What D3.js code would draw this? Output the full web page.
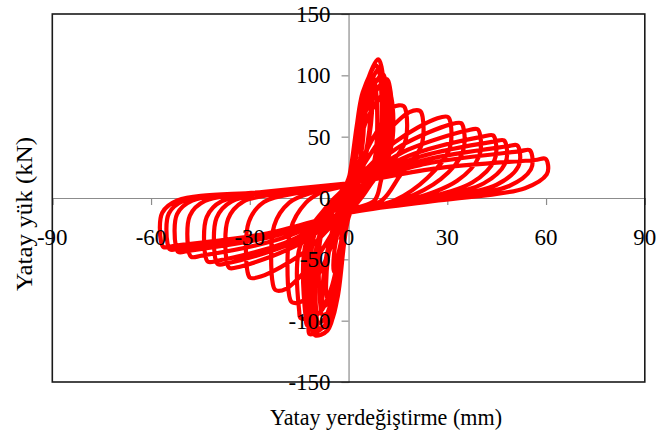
<!DOCTYPE html>
<html>
<head>
<meta charset="utf-8">
<script src="https://cdn.jsdelivr.net/npm/d3@7"></script>
<style>
  html, body { margin: 0; padding: 0; background: #fff; }
  svg { display: block; }
  text { font-family: "Liberation Serif", "Times New Roman", serif; fill: #000; }
</style>
</head>
<body>
<svg id="chart" width="656" height="437"></svg>
<script>
// ---- tick labels ----
const xTicks = [-90, -60, -30, 0, 30, 60, 90];
const yTicks = [-150, -100, -50, 0, 50, 100, 150];
const xTitle = "Yatay yerdeğiştirme (mm)";
const yTitle = "Yatay yük (kN)";

// ---- hysteresis cycles: [displacement (mm), load (kN)] ----
const elastic1 = [[0,0],[1.3,20],[2.5,35],[1.2,12],[0,-5],[-1.3,-20],[-2.5,-35],[-1.2,-12],[0,5]];
const elastic2 = [[0,8],[2.3,38],[4.5,62],[4.3,45],[2,12],[0,-8],[-2.3,-36],[-4.5,-60],[-4.3,-43],[-2,-12]];
const elastic3 = [[0,10],[3.2,50],[6.5,85],[6.3,55],[2.8,10],[0,-10],[-2.5,-50],[-6.5,-82],[-6.3,-50],[-2.8,-10]];
const elastic4 = [[0,12],[3.4,58],[7,92],[6.8,60],[3,10],[0,-12],[-2.8,-56],[-4.8,-80],[-7.5,-88],[-7.2,-55],[-3,-8]];

const spike1 = [[0,15],[3.6,75],[7,100],[8,94],[7.8,30],[3.2,5],[0,-15],[-3,-71],[-5.1,-91],[-8,-95],[-8.5,-89],[-8.3,-30],[-3.4,-5]];
const spike2 = [[0,15],[4.5,85],[9,113],[10,107],[9.8,30],[4,5],[0,-15],[-3.7,-84],[-6.4,-108],[-10.1,-112],[-10.6,-106],[-10.4,-30],[-4.2,-5]];
const spike2b = [[0,16],[4.3,86],[8.4,108],[9.3,103],[9.1,35],[3.8,6],[0,-16],[-3.4,-82],[-5.8,-103],[-9.2,-106],[-9.6,-100],[-9.4,-35],[-3.9,-6]];
const spike3 = [[0,15],[4.7,80],[9.5,106],[10.5,100],[10.3,30],[4.2,5],[0,-15],[-4,-81],[-6.9,-104],[-11,-108],[-11.5,-102],[-11.3,-30],[-4.6,-5]];
const spike3b = [[0,15],[5.2,78],[10.4,101],[11.2,96],[11,32],[4.6,5],[0,-15],[-4.3,-80],[-7.3,-104],[-11.8,-111],[-12.2,-104],[-12,-32],[-4.9,-5]];
const spike4 = [[0,15],[5.6,73],[11.5,97],[12.5,91],[12.3,35],[5,5],[0,-15],[-4.6,-78],[-7.8,-100],[-12.5,-104],[-13,-98],[-12.8,-35],[-5.2,-5]];
const spike5 = [[0,15],[5.9,66],[12,88],[13,82],[12.8,40],[5.2,5],[0,-15],[-5.3,-74],[-9,-94],[-14.5,-98],[-15,-92],[-14.8,-40],[-6,-5]];

const loop1  = [[0,12],[7.9,51],[13.5,74],[16.7,75],[17.5,70],[17.1,45],[10.5,19],[7.9,-2],[0,-12],[-8.1,-57],[-14,-84],[-17.2,-85],[-18,-80],[-17.6,-25.5],[-13,-4],[-8.1,5]];
const loop2  = [[0,12],[10.1,49],[18.5,70],[21.7,71],[22.5,66],[22.1,42.6],[15.5,17.8],[10.1,-2],[0,-12],[-10.4,-51],[-19,-74],[-22.2,-75],[-23,-70],[-22.6,-22.5],[-18,-3.8],[-10.4,5]];
const loop3  = [[0,12],[14,45.5],[27,65],[30.2,66],[31,61],[30.6,39.6],[24,16.5],[14,-2],[0,-12],[-13.8,-44.9],[-26.7,-64],[-29.9,-65],[-30.7,-60],[-30.3,-19.5],[-25.7,-3.3],[-13.8,5]];
const loop4  = [[0,12],[15.8,42.4],[31,60],[34.2,61],[35,56],[34.6,36.6],[28,15.3],[15.8,-2],[0,-12],[-16.7,-39.9],[-33,-56],[-36.2,-57],[-37,-52],[-36.6,-17.1],[-32,-2.9],[-16.7,5]];
const loop5  = [[0,12],[18,39.3],[36,55],[39.2,56],[40,51],[39.6,33.6],[33,14],[18,-2],[0,-12],[-18.2,-38],[-36.5,-53],[-39.7,-54],[-40.5,-49],[-40.1,-16.2],[-35.5,-2.7],[-18.2,5]];
const loop6  = [[0,12],[20.1,36.2],[40.7,50],[43.9,51],[44.7,46],[44.3,30.6],[37.7,12.8],[20.1,-2],[0,-12],[-19.6,-36.8],[-39.5,-51],[-42.7,-52],[-43.5,-47],[-43.1,-15.6],[-38.5,-2.6],[-19.6,5]];
const loop7  = [[0,12],[21.6,33.7],[44,46],[47.2,47],[48,42],[47.6,28.2],[41,11.8],[21.6,-2],[0,-12],[-21.9,-34.3],[-44.6,-47],[-47.8,-48],[-48.6,-43],[-48.2,-14.4],[-43.6,-2.4],[-21.9,5]];
const loop8  = [[0,12],[23.4,31.2],[48,42],[51.2,43],[52,38],[51.6,25.8],[45,10.8],[23.4,-2],[0,-12],[-23.6,-31.8],[-48.5,-43],[-51.7,-44],[-52.5,-39],[-52.1,-13.2],[-47.5,-2.2],[-23.6,5]];
const loop9  = [[0,12],[25.1,28.7],[51.8,38],[55,39],[55.8,34],[55.4,23.4],[48.8,9.8],[25.1,-2],[0,-12],[-24.8,-30.6],[-51,-41],[-54.2,-42],[-55,-37],[-54.6,-12.6],[-50,-2.1],[-24.8,5]];
const loop10 = [[0,12],[27.3,24.4],[56.6,31],[59.8,32],[60.6,27],[60.2,19.2],[53.6,8],[27.3,-2],[0,-12],[-25.7,-29.4],[-53,-39],[-56.2,-40],[-57,-35],[-56.6,-12],[-52,-2],[-25.7,5],[0,12]];

const cycles = [elastic1, elastic2, elastic3, elastic4, spike1, spike2, spike2b, spike3, spike3b, spike4, spike5,
                loop1, loop2, loop3, loop4, loop5, loop6, loop7, loop8, loop9, loop10];

// ---- layout ----
const svg = d3.select("#chart");
const mLeft = 52.3, mRight = 644.8, mTop = 14, mBottom = 382;
const x = d3.scaleLinear().domain([-90, 90]).range([mLeft, mRight]);
const y = d3.scaleLinear().domain([-150, 150]).range([mBottom, mTop]);

svg.append("rect").attr("x", mLeft).attr("y", mTop)
  .attr("width", mRight - mLeft).attr("height", mBottom - mTop)
  .attr("fill", "#fff").attr("stroke", "none");

const gx = svg.append("g").attr("transform", `translate(0,${y(0)})`)
  .call(d3.axisBottom(x).tickValues(xTicks).tickSize(7).tickFormat(""));
const gy = svg.append("g").attr("transform", `translate(${x(0)},0)`)
  .call(d3.axisLeft(y).tickValues(yTicks).tickSize(7).tickFormat(""));
[gx, gy].forEach(g => {
  g.selectAll("path,line").attr("stroke", "#8c8c8c").attr("stroke-width", 1.2);
});

const allPts = cycles.flat();
const line = d3.line()
  .x(d => x(d[0])).y(d => y(d[1]))
  .curve(d3.curveCatmullRom.alpha(0.5));
svg.append("path").datum(allPts)
  .attr("d", line)
  .attr("fill", "none")
  .attr("stroke", "#ff0000")
  .attr("stroke-width", 4.2)
  .attr("stroke-linejoin", "round")
  .attr("stroke-linecap", "round");

svg.append("rect").attr("x", mLeft).attr("y", mTop)
  .attr("width", mRight - mLeft).attr("height", mBottom - mTop)
  .attr("fill", "none").attr("stroke", "#1a1a1a").attr("stroke-width", 1.6);

svg.append("g").selectAll("text").data(xTicks).join("text")
  .attr("x", d => x(d)).attr("y", 245)
  .attr("text-anchor", "middle")
  .attr("font-size", 23)
  .text(d => d);
svg.append("g").selectAll("text").data(yTicks).join("text")
  .attr("x", x(0) - 18).attr("y", d => y(d) + 8)
  .attr("text-anchor", "end")
  .attr("font-size", 23)
  .text(d => d);

svg.append("text")
  .attr("x", 386).attr("y", 425)
  .attr("text-anchor", "middle")
  .attr("font-size", 23)
  .attr("textLength", 232).attr("lengthAdjust", "spacingAndGlyphs")
  .text(xTitle);
svg.append("text")
  .attr("transform", "translate(32,214) rotate(-90)")
  .attr("text-anchor", "middle")
  .attr("font-size", 23)
  .attr("textLength", 154).attr("lengthAdjust", "spacingAndGlyphs")
  .text(yTitle);
</script>
</body>
</html>
